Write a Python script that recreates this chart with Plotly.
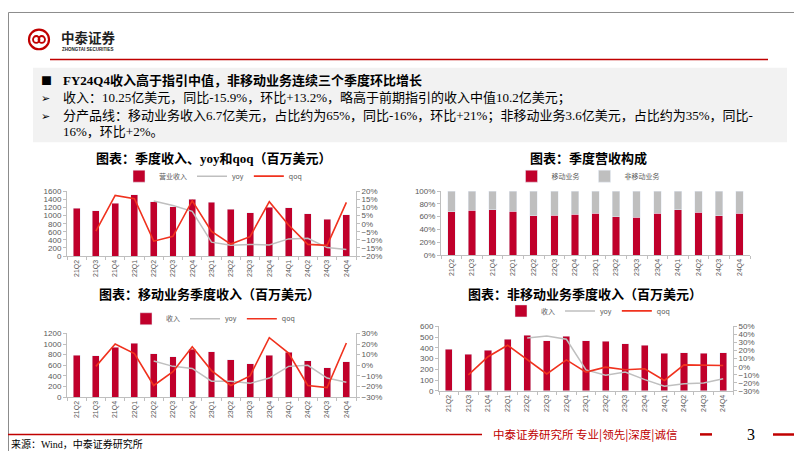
import plotly.graph_objects as go

W, H = 802, 451

# ---------------- data ----------------
quarters = ["21Q2", "21Q3", "21Q4", "22Q1", "22Q2", "22Q3", "22Q4", "23Q1",
            "23Q2", "23Q3", "23Q4", "24Q1", "24Q2", "24Q3", "24Q4"]

total_rev = [1176, 1118, 1305, 1512, 1340, 1218, 1400, 1330, 1155, 1072, 1212, 1200, 1043, 906, 1025]
total_yoy = [None, None, None, None, 14.0, 11.2, 7.6, -11.4, -13.4, -12.8, -13.2, -9.4, -9.0, -14.8, -15.9]
total_qoq = [None, -4.6, 17.5, 15.5, -10.8, -7.8, 14.2, -4.8, -12.6, -8.0, 13.6, -0.8, -12.8, -13.4, 13.2]

mobile_share = [67.5, 70, 71, 68.5, 61.4, 62, 64, 65, 60, 59, 65, 71, 66.5, 61.4, 65]
nonmobile_share = [100 - v for v in mobile_share]

mobile_rev = [790, 780, 940, 1020, 820, 765, 900, 860, 700, 630, 790, 850, 690, 550, 670]
mobile_yoy = [None, None, None, None, 4, -1, -3, -15, -15, -17, -12, -1, 0, -12, -16]
mobile_qoq = [None, -1, 20, 11, -19, -6, 17.5, -5, -19, -10, 26, 11.5, -19, -21, 21]

nonmob_rev = [385, 340, 380, 482, 518, 467, 506, 464, 460, 436, 424, 348, 357, 351, 357]
nonmob_yoy = [None, None, None, None, 35.5, 38, 34, -4, -10.6, -6.6, -16, -24, -21, -20, -15]
nonmob_qoq = [None, -10, 12.4, 26.6, 8.4, -9, 8.4, -6.6, -0.5, -3.7, -2.5, -17, 2.3, 1.5, 1.5]

# ---------------- style ----------------
BAR = "#C0002B"
GRAY = "#BFBFBF"
QOQ = "#F0321E"
TXT = "#595959"
CJK = "Noto Sans CJK SC"
SERIF = "Liberation Serif, Noto Sans CJK SC"
SANS = "Liberation Sans, Noto Sans CJK SC"


def px(x):
    return x / W


def py(y):
    return 1 - y / H


fig = go.Figure()

# chart 1
fig.add_trace(go.Bar(x=quarters, y=total_rev, name="营业收入", marker_color=BAR, width=0.36,
                     xaxis="x", yaxis="y", legend="legend"))
fig.add_trace(go.Scatter(x=quarters, y=total_yoy, name="yoy", mode="lines",
                         line=dict(color=GRAY, width=1.5), xaxis="x", yaxis="y2", legend="legend"))
fig.add_trace(go.Scatter(x=quarters, y=total_qoq, name="qoq", mode="lines",
                         line=dict(color=QOQ, width=1.6), xaxis="x", yaxis="y2", legend="legend"))

# chart 2
fig.add_trace(go.Bar(x=quarters, y=mobile_share, name="移动业务", marker_color=BAR, width=0.36,
                     xaxis="x2", yaxis="y3", legend="legend2"))
fig.add_trace(go.Bar(x=quarters, y=nonmobile_share, name="非移动业务", marker_color=GRAY, width=0.36,
                     xaxis="x2", yaxis="y3", legend="legend2"))

# chart 3
fig.add_trace(go.Bar(x=quarters, y=mobile_rev, name="收入", marker_color=BAR, width=0.36,
                     xaxis="x3", yaxis="y4", legend="legend3"))
fig.add_trace(go.Scatter(x=quarters, y=mobile_yoy, name="yoy", mode="lines",
                         line=dict(color=GRAY, width=1.5), xaxis="x3", yaxis="y5", legend="legend3"))
fig.add_trace(go.Scatter(x=quarters, y=mobile_qoq, name="qoq", mode="lines",
                         line=dict(color=QOQ, width=1.6), xaxis="x3", yaxis="y5", legend="legend3"))

# chart 4
fig.add_trace(go.Bar(x=quarters, y=nonmob_rev, name="收入", marker_color=BAR, width=0.36,
                     xaxis="x4", yaxis="y6", legend="legend4"))
fig.add_trace(go.Scatter(x=quarters, y=nonmob_yoy, name="yoy", mode="lines",
                         line=dict(color=GRAY, width=1.5), xaxis="x4", yaxis="y7", legend="legend4"))
fig.add_trace(go.Scatter(x=quarters, y=nonmob_qoq, name="qoq", mode="lines",
                         line=dict(color=QOQ, width=1.6), xaxis="x4", yaxis="y7", legend="legend4"))


def xax(x0, x1, anchor):
    return dict(domain=[px(x0), px(x1)], anchor=anchor, type="category", tickangle=-90,
                tickfont=dict(size=7, color=TXT, family=SANS), showline=True, linecolor=GRAY,
                linewidth=1, ticks="outside", ticklen=3, tickcolor=GRAY, tickson="boundaries",
                showgrid=False, zeroline=False, fixedrange=True)


def yax(y0, y1, anchor, rng, dtick, suffix="", side="left", overlaying=None):
    d = dict(anchor=anchor, range=rng, dtick=dtick, ticksuffix=suffix, side=side,
             tickfont=dict(size=8, color=TXT, family=SANS), showline=True, linecolor=GRAY,
             linewidth=1, ticks="outside", ticklen=3, tickcolor=GRAY, showgrid=False,
             zeroline=False, fixedrange=True)
    if overlaying:
        d["overlaying"] = overlaying
    else:
        d["domain"] = [py(y1), py(y0)]
    return d


leg_common = dict(orientation="h", xanchor="center", yanchor="middle", bgcolor="rgba(0,0,0,0)",
                  font=dict(size=7, color=TXT, family=CJK), itemwidth=30, tracegroupgap=0,
                  traceorder="normal")

fig.update_layout(
    width=W, height=H, margin=dict(l=0, r=0, t=0, b=0),
    paper_bgcolor="white", plot_bgcolor="rgba(0,0,0,0)",
    barmode="stack", bargap=0.6,
    xaxis=xax(59, 348, "y"),
    yaxis=yax(183, 249, "x", [0, 1600], 200),
    yaxis2=yax(183, 249, "x", [-20, 20], 5, "%", "right", "y"),
    xaxis2=xax(433, 742, "y3"),
    yaxis3=yax(182.7, 248, "x2", [0, 100], 20, "%"),
    xaxis3=xax(59, 348, "y4"),
    yaxis4=yax(328, 393, "x3", [0, 1200], 200),
    yaxis5=yax(328, 393, "x3", [-30, 30], 10, "%", "right", "y4"),
    xaxis4=xax(431, 725, "y6"),
    yaxis6=yax(320.7, 386.7, "x4", [0, 600], 100),
    yaxis7=yax(320.7, 386.7, "x4", [-30, 50], 10, "%", "right", "y6"),
    legend=dict(x=px(205), y=py(167.5), **leg_common),
    legend2=dict(x=px(580), y=py(167.5), **leg_common),
    legend3=dict(x=px(205), y=py(313), **leg_common),
    legend4=dict(x=px(580), y=py(305), **leg_common),
    showlegend=True,
)

shapes = []
# slide frame
shapes.append(dict(type="rect", xref="paper", yref="paper", x0=px(0.5), x1=px(801.5), y0=py(450.5),
                   y1=py(0.5), line=dict(color="#8C8C8C", width=1), fillcolor="rgba(0,0,0,0)"))
# header red line
shapes.append(dict(type="line", xref="paper", yref="paper", x0=px(42), x1=px(760), y0=py(48.5), y1=py(48.5),
                   line=dict(color="#C00000", width=1.5)))
# grey text box
shapes.append(dict(type="rect", xref="paper", yref="paper", x0=px(25), x1=px(779), y0=py(133), y1=py(57),
                   line=dict(width=0), fillcolor="#F2F2F2", layer="below"))
# logo circle
shapes.append(dict(type="circle", xref="paper", yref="paper", x0=px(21), x1=px(41), y0=py(38), y1=py(18),
                   line=dict(color="#C00000", width=2.2)))
shapes.append(dict(type="circle", xref="paper", yref="paper", x0=px(25), x1=px(31.5), y0=py(31.5), y1=py(24.5),
                   line=dict(color="#C00000", width=1.8)))
shapes.append(dict(type="circle", xref="paper", yref="paper", x0=px(30.5), x1=px(37), y0=py(31.5), y1=py(24.5),
                   line=dict(color="#C00000", width=1.8)))
# footer lines
shapes.append(dict(type="line", xref="paper", yref="paper", x0=px(0), x1=px(474), y0=py(431), y1=py(431),
                   line=dict(color="#C00000", width=1.5)))
shapes.append(dict(type="line", xref="paper", yref="paper", x0=px(692), x1=px(704), y0=py(431), y1=py(431),
                   line=dict(color="#C00000", width=2.5)))
shapes.append(dict(type="line", xref="paper", yref="paper", x0=px(765), x1=px(802), y0=py(431), y1=py(431),
                   line=dict(color="#C00000", width=2.5)))
fig.update_layout(shapes=shapes)


def ann(x, y, text, size, color="#000000", family=SERIF, xanchor="left", bold=False):
    if bold:
        text = "<b>" + text + "</b>"
    fig.add_annotation(x=px(x), y=py(y), xref="paper", yref="paper", text=text, showarrow=False,
                       xanchor=xanchor, yanchor="middle", font=dict(size=size, color=color, family=family))


# header logo text
ann(51, 25, "中泰证券", 13.5, "#222222", CJK, bold=True)
ann(52, 38.5, "ZHONGTAI SECURITIES", 4.5, "#222222", SANS, bold=True)

# text box
ann(31, 69.5, "■", 11, "#000000", CJK)
ann(53, 69.5, "FY24Q4收入高于指引中值，非移动业务连续三个季度环比增长", 13, "#000000", SERIF, bold=True)
ann(31, 88, "➢", 11, "#000000", "DejaVu Sans")
ann(53, 88, "收入：10.25亿美元，同比-15.9%，环比+13.2%，略高于前期指引的收入中值10.2亿美元；", 13)
ann(31, 106.5, "➢", 11, "#000000", "DejaVu Sans")
ann(53, 106.5, "分产品线：移动业务收入6.7亿美元，占比约为65%，同比-16%，环比+21%；非移动业务3.6亿美元，占比约为35%，同比-", 13)
ann(53, 122, "16%，环比+2%。", 13)

# chart titles
ann(205, 149, "图表：季度收入、yoy和qoq（百万美元）", 13, "#000000", SERIF, "center", bold=True)
ann(580, 149, "图表：季度营收构成", 13, "#000000", SERIF, "center", bold=True)
ann(201, 288, "图表：移动业务季度收入（百万美元）", 13, "#000000", SERIF, "center", bold=True)
ann(577, 288, "图表：非移动业务季度收入（百万美元）", 13, "#000000", SERIF, "center", bold=True)

# footer
ann(483, 431, "中泰证券研究所 专业|领先|深度|诚信", 11.5, "#C00000", CJK)
ann(743, 431, "3", 16, "#000000", "Liberation Serif", "center")
ann(1, 441, "来源：Wind，中泰证券研究所", 10, "#000000", SERIF)

fig.write_html("out.html")
